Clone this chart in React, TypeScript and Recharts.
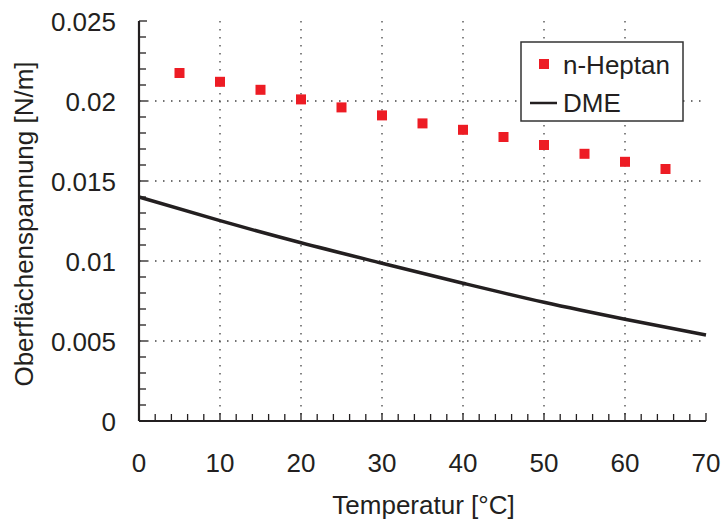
import {
  CartesianGrid,
  ComposedChart,
  Label,
  Legend,
  Line,
  Scatter,
  XAxis,
  YAxis,
} from "recharts";

// n-Heptan measurements
const heptanTemps = [5, 10, 15, 20, 25, 30, 35, 40, 45, 50, 55, 60, 65];
const heptanValues = [
  0.02175, 0.0212, 0.0207, 0.0201, 0.0196, 0.0191, 0.0186, 0.0182, 0.01775,
  0.01725, 0.0167, 0.0162, 0.01575,
];

// DME curve
const dmeTemps = [0, 10, 20, 30, 40, 50, 60, 70];
const dmeValues = [0.014, 0.01252, 0.01114, 0.00986, 0.00861, 0.00742, 0.00636, 0.00538];

const xMajor = [0, 10, 20, 30, 40, 50, 60, 70];
const yMajor = [0, 0.005, 0.01, 0.015, 0.02, 0.025];
const xMinor = Array.from({ length: 36 }, (_, i) => i * 2);
const yMinor = Array.from({ length: 26 }, (_, i) => i / 1000);

const heptan = heptanTemps.map((t, i) => ({ t, y: heptanValues[i] }));
const dme = dmeTemps.map((t, i) => ({ t, y: dmeValues[i] }));

const INK = "#231f20";
const RED = "#ed1c24";
const FONT = "'Liberation Sans', Arial, sans-serif";
const FS = 26;

const isMajor = (v: number, majors: number[]) =>
  majors.some((m) => Math.abs(m - v) < 1e-9);

function BottomTick(props: any) {
  const { x, y, payload } = props;
  const major = isMajor(payload.value, xMajor);
  return (
    <g>
      <line x1={x} x2={x} y1={y} y2={y - (major ? 8 : 7)} stroke={INK} strokeWidth={1.3} />
      {major && (
        <text x={x} y={y + 51} textAnchor="middle" fontSize={FS} fontFamily={FONT} fill={INK}>
          {payload.value}
        </text>
      )}
    </g>
  );
}

function LeftTick(props: any) {
  const { x, y, payload } = props;
  const major = isMajor(payload.value, yMajor);
  return (
    <g>
      <line x1={x} x2={x + (major ? 8 : 7)} y1={y} y2={y} stroke={INK} strokeWidth={1.3} />
      {major && (
        <text x={x - 23} y={y + 10} textAnchor="end" fontSize={FS} fontFamily={FONT} fill={INK}>
          {Number(payload.value.toFixed(3)).toString()}
        </text>
      )}
    </g>
  );
}

function TopTick(props: any) {
  const { x, y } = props;
  return <line x1={x} x2={x} y1={y} y2={y + 3} stroke="#555" strokeWidth={1} />;
}

function RightTick(props: any) {
  const { x, y } = props;
  return <line x1={x} x2={x - 3} y1={y} y2={y} stroke="#555" strokeWidth={1} />;
}

function LegendBox() {
  return (
    <svg width={164} height={81}>
      <rect x={1} y={1} width={162} height={79} fill="#fff" stroke="#333" strokeWidth={1.5} />
      <rect x={19} y={18} width={10} height={10} fill={RED} />
      <text x={43} y={33} fontSize={FS} fontFamily={FONT} fill={INK}>
        n-Heptan
      </text>
      <line x1={10} x2={37} y1={62} y2={62} stroke={INK} strokeWidth={2.5} />
      <text x={43} y={71} fontSize={FS} fontFamily={FONT} fill={INK}>
        DME
      </text>
    </svg>
  );
}

export default function App() {
  return (
    <div style={{ position: "absolute", left: 0, top: 0, background: "#fff" }}>
      <ComposedChart
        width={723}
        height={519}
        margin={{ top: 21, right: 17, bottom: 0, left: 0 }}
      >
        <CartesianGrid
          stroke="#444"
          strokeWidth={1.3}
          strokeDasharray="1.5 6.5"
          verticalValues={[10, 20, 30, 40, 50, 60]}
          horizontalValues={[0.005, 0.01, 0.015, 0.02]}
        />
        <XAxis
          dataKey="t"
          type="number"
          domain={[0, 70]}
          ticks={xMinor}
          interval={0}
          height={98}
          tickSize={0}
          tickMargin={0}
          tickLine={false}
          axisLine={{ stroke: INK, strokeWidth: 2.2 }}
          tick={<BottomTick />}
        >
          <Label
            content={(p: any) => {
              const vb = p.viewBox;
              return (
                <text
                  x={vb.x + vb.width / 2 + 1}
                  y={514}
                  textAnchor="middle"
                  fontSize={FS}
                  fontFamily={FONT}
                  fill={INK}
                >
                  Temperatur [°C]
                </text>
              );
            }}
          />
        </XAxis>
        <XAxis
          xAxisId="top"
          orientation="top"
          dataKey="t"
          type="number"
          domain={[0, 70]}
          ticks={xMinor}
          interval={0}
          height={0}
          tickSize={0}
          tickMargin={0}
          tickLine={false}
          axisLine={{ stroke: INK, strokeWidth: 1.5 }}
          tick={<TopTick />}
        />
        <YAxis
          type="number"
          domain={[0, 0.025]}
          ticks={yMinor}
          interval={0}
          width={139}
          tickSize={0}
          tickMargin={0}
          tickLine={false}
          axisLine={{ stroke: INK, strokeWidth: 2.2 }}
          tick={<LeftTick />}
        >
          <Label
            content={(p: any) => {
              const vb = p.viewBox;
              const cy = vb.y + vb.height / 2 + 3;
              return (
                <text
                  x={33}
                  y={cy}
                  transform={`rotate(-90 33 ${cy})`}
                  textAnchor="middle"
                  fontSize={FS}
                  fontFamily={FONT}
                  fill={INK}
                >
                  Oberflächenspannung [N/m]
                </text>
              );
            }}
          />
        </YAxis>
        <YAxis
          yAxisId="right"
          orientation="right"
          type="number"
          domain={[0, 0.025]}
          ticks={yMinor}
          interval={0}
          width={0}
          tickSize={0}
          tickMargin={0}
          tickLine={false}
          axisLine={{ stroke: INK, strokeWidth: 1.5 }}
          tick={<RightTick />}
        />
        <Legend
          layout="vertical"
          align="center"
          verticalAlign="middle"
          wrapperStyle={{ position: "absolute", top: 41, left: 520, width: 164, height: 81 }}
          content={() => <LegendBox />}
        />
        <Line
          data={dme}
          dataKey="y"
          type="monotone"
          stroke={INK}
          strokeWidth={3.5}
          dot={false}
          isAnimationActive={false}
        />
        <Scatter
          data={heptan}
          dataKey="y"
          fill={RED}
          isAnimationActive={false}
          shape={(p: any) => (
            <rect x={p.cx - 5} y={p.cy - 5} width={10} height={10} fill={RED} />
          )}
        />
      </ComposedChart>
    </div>
  );
}
